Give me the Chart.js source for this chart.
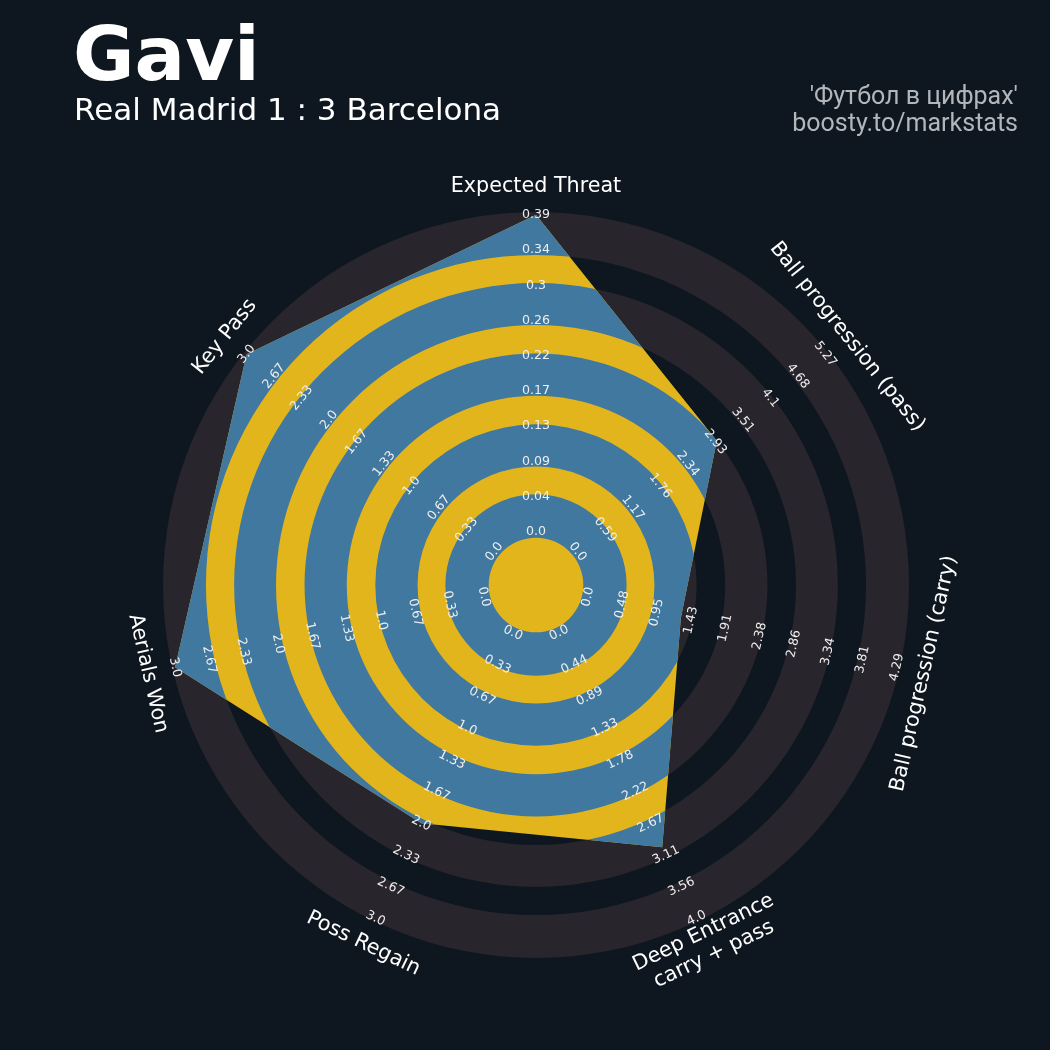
<!DOCTYPE html>
<html>
<head>
<meta charset="utf-8">
<script src="https://cdn.jsdelivr.net/npm/chart.js@4.4.1/dist/chart.umd.min.js"></script>
<style>
  html, body { margin: 0; padding: 0; background: #0e1720; }
  #wrap { position: relative; width: 1050px; height: 1050px; overflow: hidden; }
  #radar { position: absolute; left: 0; top: 0; }
  .player { position: absolute; left: 73px; top: 17px; font: bold 75px 'DejaVu Sans'; line-height: 75px; color: #ffffff; white-space: nowrap; }
  .match { position: absolute; left: 74px; top: 94px; font: 31px 'DejaVu Sans'; line-height: 31px; color: #ffffff; white-space: nowrap; }
  .credits { position: absolute; right: 32px; top: 82px; font: 25px Roboto; line-height: 27px; color: #b3b7bc; text-align: right; white-space: nowrap; }
</style>
</head>
<body>
<div id="wrap">
  <canvas id="radar" width="1050" height="1050"></canvas>
  <div class="player">Gavi</div>
  <div class="match">Real Madrid 1 : 3 Barcelona</div>
  <div class="credits">'Футбол в цифрах'<br>boosty.to/markstats</div>
</div>
<script>
// radar data (clockwise from the top axis)
const params = [
  "Expected Threat",
  "Ball progression (pass)",
  "Ball progression (carry)",
  ["Deep Entrance", "carry + pass"],
  "Poss Regain",
  "Aerials Won",
  "Key Pass"
];
const lowValues = [0, 0, 0, 0, 0, 0, 0];
const highValues = [0.39, 5.27, 4.29, 4.0, 3.0, 3.0, 3.0];
const gaviValues = [0.39, 2.96, 1.29, 3.0, 2.0, 3.0, 3.0];

// ring labels printed along every axis
const tickLabels = [
  ["0.0", "0.04", "0.09", "0.13", "0.17", "0.22", "0.26", "0.3", "0.34", "0.39"],
  ["0.0", "0.59", "1.17", "1.76", "2.34", "2.93", "3.51", "4.1", "4.68", "5.27"],
  ["0.0", "0.48", "0.95", "1.43", "1.91", "2.38", "2.86", "3.34", "3.81", "4.29"],
  ["0.0", "0.44", "0.89", "1.33", "1.78", "2.22", "2.67", "3.11", "3.56", "4.0"],
  ["0.0", "0.33", "0.67", "1.0", "1.33", "1.67", "2.0", "2.33", "2.67", "3.0"],
  ["0.0", "0.33", "0.67", "1.0", "1.33", "1.67", "2.0", "2.33", "2.67", "3.0"],
  ["0.0", "0.33", "0.67", "1.0", "1.33", "1.67", "2.0", "2.33", "2.67", "3.0"]
];

// styling
const COLORS = {
  ringOut: '#28252c',
  ringIn: '#41789f',
  radar: '#e3b51c',
  tick: '#eeeeee',
  param: '#ffffff'
};
const STEPS = 9;              // label steps from low to high
const SCALE_MIN = -1.514;     // center of the radar (center circle below the 0 label)
const SCALE_MAX = 9.08;       // outer edge of the last ring
const LABEL_POS = 9.79;       // where parameter names sit
// wide bands (grey outside / blue inside the polygon), in label-step units
const wideBands = [[-0.17, 1.06], [1.85, 3.05], [3.86, 5.06], [5.87, 7.06], [7.86, SCALE_MAX]];

// normalised to label steps so every axis shares one radial scale
const scaled = gaviValues.map((v, i) => (v - lowValues[i]) / (highValues[i] - lowValues[i]) * STEPS);

function drawBands(ctx, scale) {
  for (const [a, b] of wideBands) {
    ctx.beginPath();
    ctx.arc(scale.xCenter, scale.yCenter, scale.getDistanceFromCenterForValue(b), 0, Math.PI * 2);
    ctx.arc(scale.xCenter, scale.yCenter, scale.getDistanceFromCenterForValue(a), 0, Math.PI * 2, true);
    ctx.fill();
  }
}

// flip text on the lower half so it never reads upside down
function textAngle(scale, i) {
  let a = scale.getIndexAngle(i);
  if (a > Math.PI / 2 && a < Math.PI * 1.5) a -= Math.PI;
  return a;
}

const ringPlugin = {
  id: 'rings',
  beforeDatasetsDraw(chart) {
    const ctx = chart.ctx;
    ctx.save();
    ctx.fillStyle = COLORS.ringOut;
    drawBands(ctx, chart.scales.r);
    ctx.restore();
  },
  afterDatasetsDraw(chart) {
    const ctx = chart.ctx;
    const scale = chart.scales.r;
    const pts = chart.getDatasetMeta(0).data;

    // blue bands only inside the player polygon
    ctx.save();
    ctx.beginPath();
    pts.forEach((p, i) => i ? ctx.lineTo(p.x, p.y) : ctx.moveTo(p.x, p.y));
    ctx.closePath();
    ctx.clip();
    ctx.fillStyle = COLORS.ringIn;
    drawBands(ctx, scale);
    ctx.restore();

    // ring value labels
    ctx.save();
    ctx.font = "12.6px 'DejaVu Sans'";
    ctx.fillStyle = COLORS.tick;
    ctx.textAlign = 'center';
    ctx.textBaseline = 'middle';
    tickLabels.forEach((labels, i) => {
      const rot = textAngle(scale, i);
      labels.forEach((txt, j) => {
        const p = scale.getPointPositionForValue(i, j);
        ctx.save();
        ctx.translate(p.x, p.y);
        ctx.rotate(rot);
        ctx.fillText(txt, 0, 0);
        ctx.restore();
      });
    });
    ctx.restore();

    // parameter names
    ctx.save();
    ctx.font = "20.7px 'DejaVu Sans'";
    ctx.fillStyle = COLORS.param;
    ctx.textAlign = 'center';
    ctx.textBaseline = 'middle';
    params.forEach((name, i) => {
      const p = scale.getPointPositionForValue(i, LABEL_POS);
      const lines = Array.isArray(name) ? name : [name];
      ctx.save();
      ctx.translate(p.x, p.y);
      ctx.rotate(textAngle(scale, i));
      lines.forEach((ln, k) => ctx.fillText(ln, 0, (k - (lines.length - 1) / 2) * 24));
      ctx.restore();
    });
    ctx.restore();
  }
};

new Chart(document.getElementById('radar'), {
  type: 'radar',
  data: {
    labels: params,
    datasets: [{
      data: scaled,
      backgroundColor: COLORS.radar,
      borderWidth: 0,
      pointRadius: 0,
      fill: 'start',
      tension: 0
    }]
  },
  options: {
    responsive: false,
    animation: false,
    devicePixelRatio: 1,
    layout: { padding: { left: 163, top: 212, right: 141, bottom: 92 } },
    plugins: { legend: { display: false }, tooltip: { enabled: false } },
    scales: {
      r: {
        min: SCALE_MIN,
        max: SCALE_MAX,
        grid: { display: false },
        angleLines: { display: false },
        ticks: { display: false },
        pointLabels: { display: false }
      }
    }
  },
  plugins: [ringPlugin]
});
</script>
</body>
</html>
